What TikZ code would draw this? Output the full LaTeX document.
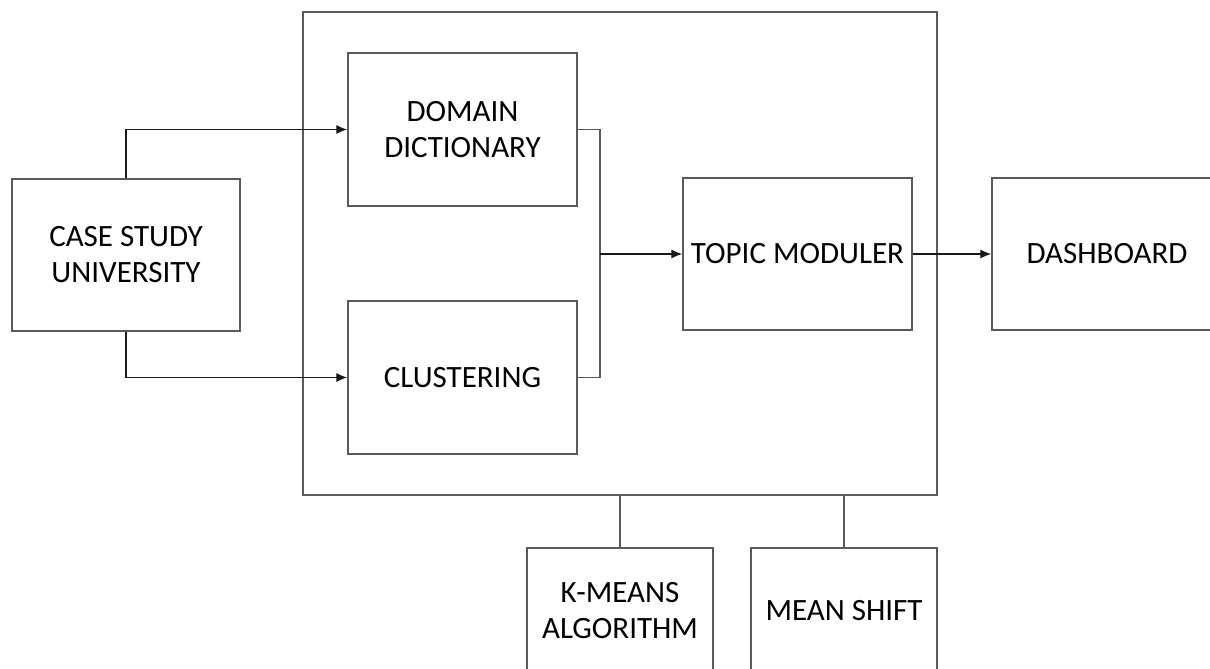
\documentclass[tikz,border=0pt]{standalone}
\usepackage{fontspec}
\setmainfont{Carlito}
\usetikzlibrary{arrows.meta}
\definecolor{boxline}{HTML}{5A5A5A}
\definecolor{wire}{HTML}{1A1A1A}
\tikzset{
  blockbox/.style={draw=boxline, line width=0.7pt, fill=white, inner sep=2pt,
    align=center, font=\fontsize{15.5}{18}\selectfont, text=black},
  wireline/.style={draw=wire, line width=0.65pt},
  flow/.style={wireline, -{Latex[length=5.5pt,width=4.6pt]}},
  tieline/.style={draw=boxline, line width=0.7pt}
}
\begin{document}
\begin{tikzpicture}[x=0.5pt, y=-0.5pt]
  \useasboundingbox (0,0) rectangle (1210,669);
  % enclosing module frame
  \node[blockbox, minimum width=317pt, minimum height=241.5pt] (frame) at (620,253.5) {};
  % blocks
  \node[blockbox, minimum width=114pt, minimum height=76pt] (case) at (126,255) {CASE STUDY\\UNIVERSITY};
  \node[blockbox, minimum width=114.5pt, minimum height=76.5pt] (dict) at (462.5,129.5) {DOMAIN\\DICTIONARY};
  \node[blockbox, minimum width=114.5pt, minimum height=76.5pt] (clust) at (462.5,377.5) {CLUSTERING};
  \node[blockbox, minimum width=114.5pt, minimum height=76pt] (topic) at (797.5,254) {TOPIC MODULER};
  \node[blockbox, minimum width=115pt, minimum height=76pt] (dash) at (1107,254) {DASHBOARD};
  \node[blockbox, minimum width=93pt, minimum height=63pt] (kmeans) at (620,611) {K-MEANS\\ALGORITHM};
  \node[blockbox, minimum width=93pt, minimum height=63pt] (mshift) at (844,611) {MEAN SHIFT};
  % junction where the two branches merge
  \coordinate (jn) at (600,254);
  % connectors
  \draw[flow] (case.north) |- (dict.west);
  \draw[flow] (case.south) |- (clust.west);
  \draw[tieline] (dict.east) -| (jn);
  \draw[tieline] (clust.east) -| (jn);
  \draw[flow] (jn) -- (topic.west);
  \draw[flow] (topic.east) -- (dash.west);
  \draw[tieline] (kmeans.north) -- (kmeans.north |- frame.south);
  \draw[tieline] (mshift.north) -- (mshift.north |- frame.south);
\end{tikzpicture}
\end{document}
